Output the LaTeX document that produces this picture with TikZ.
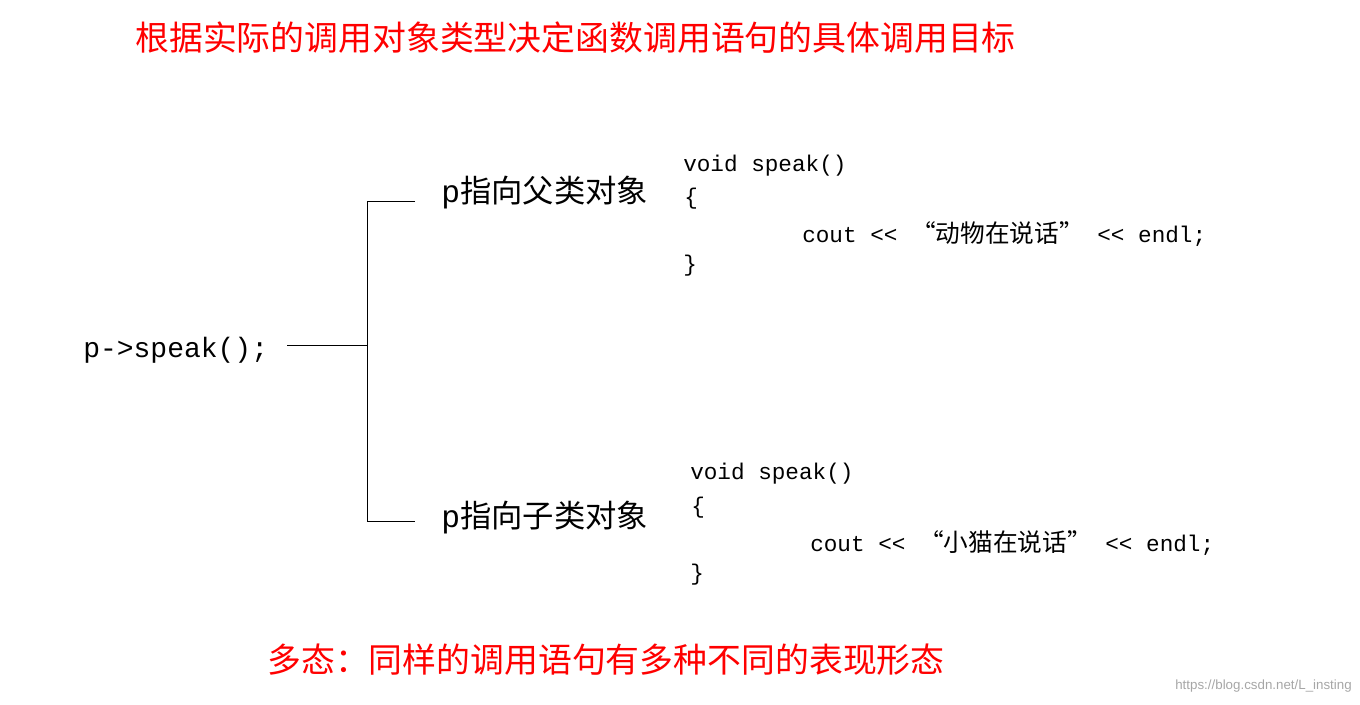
\documentclass[tikz,border=0pt]{standalone}
\usepackage{fontspec}
\setmainfont{Liberation Serif}
\newfontfamily\cjk{Noto Sans CJK SC}
\newfontfamily\mono{Liberation Mono}
\begin{document}
\begin{tikzpicture}[x=0.75pt,y=-0.75pt,
  red/.style={text=red,font=\cjk\fontsize{25.4}{28}\selectfont,anchor=west,inner sep=0},
  branch/.style={font=\fontsize{23.5}{26}\selectfont,anchor=west,inner sep=0},
  code/.style={font=\mono\fontsize{17}{20}\selectfont,anchor=west,inner sep=0},
  zh/.style={font=\cjk\fontsize{18.5}{20}\selectfont},
  ln/.style={line width=0.6pt}]
\useasboundingbox (0,0) rectangle (1360,704);
\node[red] (title) at (135,38) {根据实际的调用对象类型决定函数调用语句的具体调用目标};
\node[font=\mono\fontsize{21}{24}\selectfont,anchor=west,inner sep=0] (call) at (83,350) {p->speak();};
\coordinate (j) at (367,345);
\coordinate (c1) at (367,201);
\coordinate (c2) at (367,521);
\coordinate (s) at (287,345);
\node[branch] (b1) at (441,193) {{\mono p}{\cjk 指向父类对象}};
\node[branch] (b2) at (441,518) {{\mono p}{\cjk 指向子类对象}};
\coordinate (e1) at (415,201);
\coordinate (e2) at (415,521);
\draw[ln] (s) -- (j);
\draw[ln] (e1) -- (c1) -- (c2) -- (e2);
\node[code] (v1) at (683,166) {void speak()};
\node[code] (o1) at (684,199) {\{};
\node[code] (k1) at (802,234) {cout << {\cjk\fontsize{18.5}{20}\selectfont “动物在说话”} << endl;};
\node[code] (x1) at (683,266) {\}};
\node[code] (v2) at (690,474) {void speak()};
\node[code] (o2) at (691,508) {\{};
\node[code] (k2) at (810,543) {cout << {\cjk\fontsize{18.5}{20}\selectfont “小猫在说话”} << endl;};
\node[code] (x2) at (690,575) {\}};
\node[red] (poly) at (267,660) {多态：同样的调用语句有多种不同的表现形态};
\node[anchor=east,inner sep=0,text=gray!70,font=\fontspec{Liberation Sans}\fontsize{10}{12}\selectfont] (wm) at (1352,686) {https://blog.csdn.net/L\_insting};
\end{tikzpicture}
\end{document}
